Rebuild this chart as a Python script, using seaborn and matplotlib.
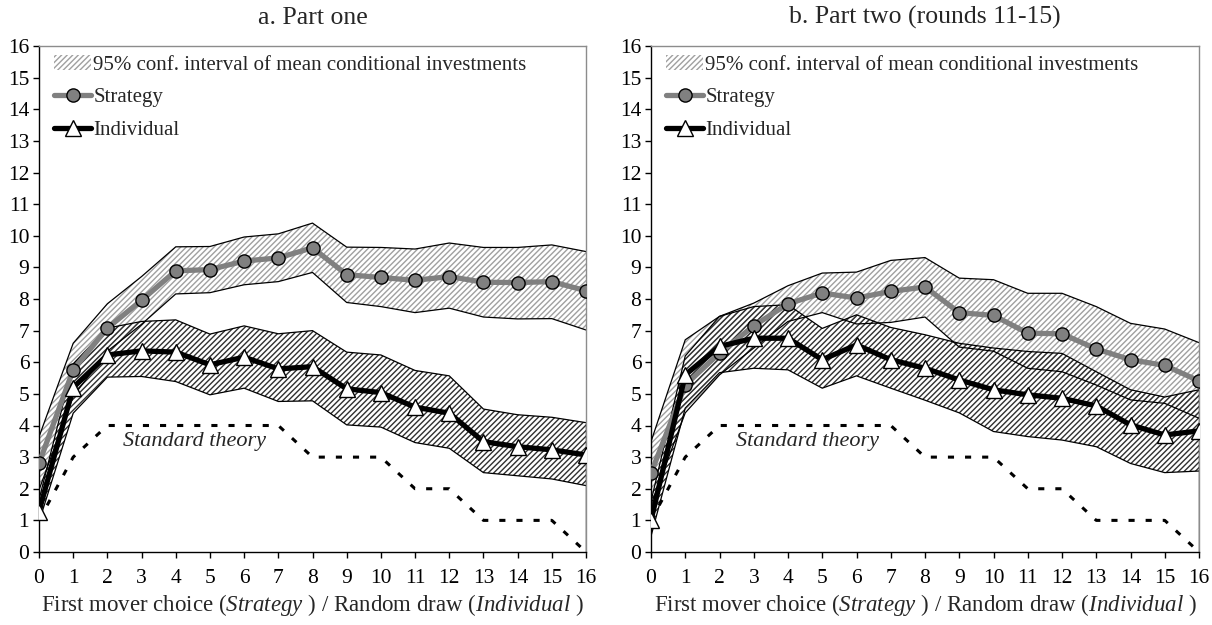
import numpy as np
import pandas as pd
import seaborn as sns
import matplotlib.pyplot as plt
from matplotlib.patches import Patch
from matplotlib.lines import Line2D

# first mover choice / random draw
choice = list(range(17))
theory = [1, 3, 4, 4, 4, 4, 4, 4, 3, 3, 3, 2, 2, 1, 1, 1, 0]

# a. Part one
strat_a = [2.80, 5.76, 7.08, 7.96, 8.89, 8.93, 9.20, 9.30, 9.62, 8.77, 8.68, 8.59, 8.71, 8.53, 8.52, 8.55, 8.26]
strat_a_hi = [3.64, 6.60, 7.85, 8.71, 9.65, 9.66, 9.96, 10.06, 10.40, 9.64, 9.63, 9.58, 9.77, 9.63, 9.63, 9.71, 9.50]
strat_a_lo = [1.96, 4.92, 6.35, 7.20, 8.16, 8.20, 8.45, 8.55, 8.84, 7.89, 7.76, 7.57, 7.71, 7.43, 7.37, 7.38, 7.02]
ind_a = [1.28, 5.20, 6.23, 6.36, 6.32, 5.92, 6.16, 5.79, 5.86, 5.16, 5.04, 4.58, 4.39, 3.49, 3.33, 3.23, 3.07]
ind_a_hi = [1.65, 5.95, 7.08, 7.29, 7.34, 6.89, 7.15, 6.90, 7.00, 6.32, 6.23, 5.74, 5.57, 4.52, 4.34, 4.26, 4.09]
ind_a_lo = [0.95, 4.39, 5.53, 5.55, 5.39, 4.97, 5.18, 4.76, 4.78, 4.02, 3.95, 3.46, 3.28, 2.51, 2.41, 2.31, 2.10]

# b. Part two (rounds 11-15)
strat_b = [2.49, 5.28, 6.29, 7.15, 7.85, 8.19, 8.03, 8.24, 8.38, 7.57, 7.48, 6.92, 6.90, 6.42, 6.08, 5.90, 5.41]
strat_b_hi = [3.49, 6.71, 7.45, 7.87, 8.42, 8.82, 8.85, 9.22, 9.31, 8.66, 8.61, 8.18, 8.18, 7.76, 7.23, 7.05, 6.62]
strat_b_lo = [1.50, 4.40, 5.60, 6.45, 7.29, 7.57, 7.21, 7.26, 7.43, 6.48, 6.35, 5.81, 5.70, 5.28, 4.81, 4.70, 4.23]
ind_b = [1.00, 5.60, 6.50, 6.76, 6.76, 6.08, 6.55, 6.08, 5.81, 5.44, 5.13, 4.97, 4.86, 4.62, 4.02, 3.70, 3.83]
ind_b_hi = [1.60, 6.20, 7.45, 7.76, 7.82, 7.07, 7.50, 7.10, 6.87, 6.60, 6.45, 6.34, 6.28, 5.70, 5.13, 4.90, 5.13]
ind_b_lo = [0.50, 4.55, 5.67, 5.81, 5.76, 5.18, 5.57, 5.18, 4.80, 4.40, 3.81, 3.65, 3.54, 3.33, 2.80, 2.51, 2.56]

titles = ["a. Part one", "b. Part two (rounds 11-15)"]

sns.set_style("ticks")
plt.rcParams["font.family"] = ["Liberation Serif", "DejaVu Serif"]
plt.rcParams["mathtext.fontset"] = "custom"
plt.rcParams["mathtext.rm"] = "Liberation Serif"
plt.rcParams["mathtext.it"] = "Liberation Serif:italic"
plt.rcParams["hatch.linewidth"] = 1.0

STRAT_GRAY = "#808080"
LIGHT_HATCH = "#a0a0a0"
DARK_HATCH = "#303030"

fig = plt.figure(figsize=(12.12, 6.25), dpi=100)
ax_a = fig.add_axes([39 / 1212, 73 / 625, 547 / 1212, 506 / 625])
ax_b = fig.add_axes([651 / 1212, 73 / 625, 548 / 1212, 506 / 625])

panels = [
    (ax_a, strat_a, strat_a_lo, strat_a_hi, ind_a, ind_a_lo, ind_a_hi),
    (ax_b, strat_b, strat_b_lo, strat_b_hi, ind_b, ind_b_lo, ind_b_hi),
]

for i, (ax, s, s_lo, s_hi, ind, i_lo, i_hi) in enumerate(panels):
    df = pd.DataFrame(
        {"choice": choice, "theory": theory, "strategy": s, "individual": ind}
    )

    # confidence bands
    ax.fill_between(choice, s_lo, s_hi, facecolor="none", edgecolor=LIGHT_HATCH,
                    hatch="//////", linewidth=0, zorder=1)
    ax.fill_between(choice, i_lo, i_hi, facecolor="none", edgecolor=DARK_HATCH,
                    hatch="//////", linewidth=0, zorder=1)
    for edge in [s_lo, s_hi, i_lo, i_hi]:
        ax.plot(choice, edge, color="black", lw=0.9, zorder=2)
    ax.vlines(16, 0, i_hi[-1], color="black", lw=1, zorder=2)

    # standard theory
    sns.lineplot(data=df, x="choice", y="theory", ax=ax, color="black",
                 lw=2.2, linestyle=(0, (2, 3.6)), dash_capstyle="butt", zorder=3)
    ax.text(4.56, 3.49, "Standard theory", style="italic", fontsize=16,
            ha="center", va="center", zorder=4)

    sns.lineplot(data=df, x="choice", y="strategy", ax=ax, color=STRAT_GRAY,
                 lw=3.8, marker="o", markersize=9.5, markerfacecolor=STRAT_GRAY,
                 markeredgecolor="black", markeredgewidth=1, zorder=5)
    sns.lineplot(data=df, x="choice", y="individual", ax=ax, color="black",
                 lw=3.8, marker="^", markersize=11.5, markerfacecolor="white",
                 markeredgecolor="black", markeredgewidth=1, zorder=6)

    ax.set_xlim(0, 16)
    ax.set_ylim(0, 16)
    ax.set_xticks(range(17))
    ax.set_yticks(range(17))
    ax.tick_params(direction="out", length=4, width=1, labelsize=15.5,
                   colors="black")
    ax.tick_params(axis="y", pad=3)
    ax.tick_params(axis="x", pad=8)
    for side in ["top", "right"]:
        ax.spines[side].set_visible(True)
        ax.spines[side].set_color("#8c8c8c")
        ax.spines[side].set_linewidth(1)
    for side in ["left", "bottom"]:
        ax.spines[side].set_color("black")
        ax.spines[side].set_linewidth(1)
    ax.set_ylabel("")
    ax.set_xlabel(r"First mover choice ($\mathit{Strategy}$ ) / Random draw ($\mathit{Individual}$ )",
                  fontsize=16.5, labelpad=3)
    ax.set_title(titles[i], fontsize=18.5, pad=16)

    handles = [
        Patch(facecolor="white", edgecolor=LIGHT_HATCH, hatch="//////", linewidth=0),
        Line2D([], [], color=STRAT_GRAY, lw=3.8, marker="o", markersize=9.5,
               markerfacecolor=STRAT_GRAY, markeredgecolor="black"),
        Line2D([], [], color="black", lw=3.8, marker="^", markersize=11.5,
               markerfacecolor="white", markeredgecolor="black"),
    ]
    labels = ["95% conf. interval of mean conditional investments", "Strategy", "Individual"]
    ax.legend(handles, labels, loc="upper left", bbox_to_anchor=(0.01, 1.0),
              frameon=False, fontsize=15, handlelength=1.8, handletextpad=0.1,
              labelspacing=0.62, borderaxespad=0.05)

fig.savefig("out.png", dpi=100)
